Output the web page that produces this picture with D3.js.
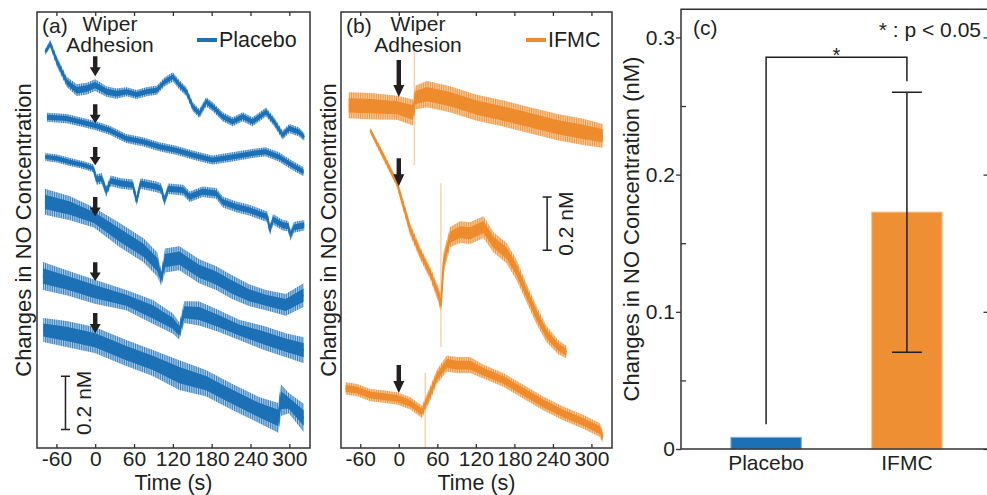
<!DOCTYPE html>
<html>
<head>
<meta charset="utf-8">
<script src="https://cdn.jsdelivr.net/npm/d3@7"></script>
<style>
  body { margin: 0; background: #fff; }
  svg { display: block; font-family: "Liberation Sans", Arial, sans-serif; }
  .tick text { fill: #231f20; }
</style>
</head>
<body>
<svg id="chart" width="987" height="495"></svg>
<script>
// shared time ticks of panels (a) and (b), seconds
const timeTicks = [-60, 0, 60, 120, 180, 240, 300];

// panel (a) placebo recordings: [time s, level nM, noise half-width nM]
const placebo1 = [[-77, 1.490, 0.012], [-69.5, 1.521, 0.015], [-59, 1.452, 0.019], [-44, 1.377, 0.019],
  [-28.5, 1.346, 0.022], [-13, 1.352, 0.022], [0, 1.365, 0.022], [18, 1.340, 0.02], [33, 1.333, 0.019],
  [48.5, 1.340, 0.017], [64, 1.330, 0.017], [79, 1.340, 0.017], [95, 1.346, 0.017], [107, 1.377, 0.017],
  [120, 1.396, 0.017], [130.5, 1.365, 0.017], [141, 1.340, 0.017], [151, 1.283, 0.017], [161, 1.258, 0.017],
  [171.5, 1.302, 0.017], [182, 1.283, 0.017], [197, 1.246, 0.017], [212.5, 1.227, 0.017], [228, 1.246, 0.017],
  [243, 1.227, 0.017], [264, 1.264, 0.017], [276.5, 1.227, 0.017], [289.5, 1.177, 0.017], [300, 1.202, 0.017],
  [315, 1.189, 0.017], [323, 1.170, 0.015]];
const placebo2 = [[-74.6, 1.244, 0.017], [-44.3, 1.239, 0.017], [-23.8, 1.227, 0.017], [-1.8, 1.214, 0.017],
  [22.3, 1.195, 0.017], [48, 1.164, 0.017], [73.5, 1.152, 0.017], [99.2, 1.133, 0.017], [125, 1.120, 0.017],
  [150.5, 1.102, 0.017], [181, 1.083, 0.017], [212, 1.095, 0.017], [243, 1.108, 0.017], [263, 1.114, 0.017],
  [284, 1.095, 0.017], [304, 1.064, 0.017], [322, 1.039, 0.017]];
const placebo3 = [[-77, 1.095, 0.015], [-59, 1.089, 0.015], [-39, 1.076, 0.015], [-18, 1.064, 0.015],
  [-3, 1.052, 0.015], [2, 1.010, 0.02], [10, 1.014, 0.02], [17, 0.965, 0.02], [24, 1.005, 0.02], [40, 0.995, 0.02],
  [58, 0.990, 0.02], [64, 0.930, 0.02], [70, 0.995, 0.02], [95, 0.982, 0.02], [102, 0.975, 0.02], [107, 0.930, 0.02],
  [113, 0.975, 0.02], [136, 0.970, 0.02], [146, 0.945, 0.02], [166, 0.964, 0.02], [187, 0.958, 0.02],
  [197, 0.926, 0.02], [218, 0.907, 0.02], [238, 0.895, 0.02], [259, 0.876, 0.02], [266, 0.870, 0.02],
  [270, 0.820, 0.02], [275, 0.860, 0.02], [290, 0.838, 0.02], [298, 0.835, 0.02], [302, 0.800, 0.02],
  [307, 0.830, 0.02], [323, 0.838, 0.02]];
const placebo4 = [[-77.7, 0.926, 0.049], [-39, 0.902, 0.045], [-2, 0.867, 0.038], [37.7, 0.801, 0.045],
  [74.6, 0.744, 0.045], [96, 0.690, 0.045], [102, 0.640, 0.03], [108, 0.705, 0.045], [130, 0.714, 0.045],
  [160.8, 0.665, 0.045], [187, 0.639, 0.045], [211.5, 0.605, 0.045], [237.7, 0.575, 0.041],
  [263.8, 0.556, 0.038], [294.6, 0.538, 0.041], [322, 0.575, 0.045]];
const placebo5 = [[-80.8, 0.647, 0.053], [-44.3, 0.622, 0.047], [-0.8, 0.588, 0.045], [48, 0.556, 0.038],
  [89, 0.512, 0.045], [119.7, 0.469, 0.038], [130, 0.440, 0.032], [137.7, 0.511, 0.041], [160.8, 0.506, 0.045],
  [191.5, 0.477, 0.041], [222.3, 0.444, 0.038], [263.4, 0.412, 0.045], [294, 0.387, 0.045], [322.3, 0.368, 0.049]];
const placebo6 = [[-80.3, 0.444, 0.045], [-44.3, 0.429, 0.049], [-0.8, 0.406, 0.049], [48, 0.357, 0.049],
  [89, 0.320, 0.049], [130, 0.274, 0.056], [171, 0.244, 0.049], [212, 0.192, 0.049], [253, 0.143, 0.049],
  [283, 0.113, 0.056], [287, 0.180, 0.06], [299.2, 0.169, 0.038], [322.3, 0.113, 0.053]];

// panel (b) IFMC recordings: [time s, level nM, noise half-width nM]
const ifmc1 = [[-78, 1.289, 0.049], [-44, 1.286, 0.049], [-2.6, 1.280, 0.045], [22, 1.262, 0.049],
  [26, 1.318, 0.045], [43.9, 1.331, 0.049], [79.5, 1.312, 0.049], [121.4, 1.280, 0.049], [162.8, 1.258, 0.049],
  [204, 1.233, 0.049], [245.4, 1.208, 0.049], [286.8, 1.189, 0.049], [317.8, 1.174, 0.045]];
const ifmc2 = [[-44.5, 1.195, 0.011], [-23.3, 1.095, 0.015], [-2.6, 0.995, 0.015], [2.5, 0.951, 0.019],
  [18, 0.820, 0.023], [33.5, 0.732, 0.023], [49, 0.657, 0.023], [62, 0.575, 0.03], [65.6, 0.538, 0.03],
  [69.8, 0.699, 0.038], [80, 0.793, 0.038], [95.5, 0.812, 0.041], [111, 0.808, 0.041], [131.8, 0.831, 0.041],
  [147.3, 0.774, 0.038], [167.8, 0.733, 0.038], [183.4, 0.669, 0.038], [198.9, 0.583, 0.034],
  [214.4, 0.500, 0.034], [229.9, 0.429, 0.03], [248, 0.380, 0.026], [261, 0.361, 0.023]];
const ifmc3 = [[-82.8, 0.224, 0.023], [-64.7, 0.218, 0.023], [-44, 0.199, 0.023], [-23.3, 0.193, 0.023],
  [-2.6, 0.187, 0.023], [18, 0.168, 0.023], [36.1, 0.136, 0.023], [49, 0.206, 0.026], [59.4, 0.268, 0.026],
  [74.9, 0.318, 0.03], [90.4, 0.312, 0.03], [111, 0.312, 0.03], [131.8, 0.287, 0.026], [162.8, 0.256, 0.026],
  [193.8, 0.212, 0.026], [224.8, 0.168, 0.026], [255.8, 0.130, 0.026], [286.8, 0.099, 0.026],
  [312.6, 0.068, 0.026], [317.8, 0.042, 0.023]];
// artefact spikes in (b): [time s, low nM, high nM]
const ifmcSpikes = [[24.2, 1.064, 1.496], [65.6, 0.380, 0.996], [41.2, 0.004, 0.282]];

// wiper adhesion arrows at t = 0: [top nM, tip nM]
const placeboArrows = [[1.474, 1.398], [1.293, 1.222], [1.132, 1.064], [0.944, 0.872], [0.699, 0.628], [0.508, 0.432]];
const ifmcArrows = [[1.459, 1.320], [1.090, 0.985], [0.312, 0.207]];
// 0.2 nM scale bars: [time s, from nM, to nM]
const scaleBarA = [-46, 0.07, 0.27];
const scaleBarB = [231, 0.744, 0.944];

// panel (c)
const groups = ['Placebo', 'IFMC'];
const meanChange = [0.0085, 0.1727];
const errLow = [null, 0.0705];
const errHigh = [null, 0.260];
const bracket = [0.018, 0.2856, 0.268]; // left foot, top, right foot
const cTicks = [0, 0.1, 0.2, 0.3];
const cMinor = [0.05, 0.15, 0.25];

const ink = '#231f20';
const blue = '#1c70b5', blueLight = '#b3d1ec';
const orange = '#ee8b2c', orangeLight = '#f9d0a6';

const svg = d3.select('#chart');
const defs = svg.append('defs');

// dense vertical hatching stands in for the fast oscillation of the raw signal
function stripes(id, color) {
  const p = defs.append('pattern').attr('id', id).attr('patternUnits', 'userSpaceOnUse')
    .attr('width', 1.8).attr('height', 8);
  p.append('rect').attr('width', 0.9).attr('height', 8).attr('fill', color).attr('opacity', 0.85);
}
stripes('stripeBlue', blue);
stripes('stripeOrange', orange);

function drawTrace(g, x, y, data, dark, light, pat) {
  const band = k => d3.area().x(d => x(d[0])).y0(d => y(d[1] - d[2] * k)).y1(d => y(d[1] + d[2] * k));
  g.append('path').attr('d', band(1)(data)).attr('fill', light);
  g.append('path').attr('d', band(1)(data)).attr('fill', 'url(#' + pat + ')');
  g.append('path').attr('d', band(0.55)(data)).attr('fill', dark);
  g.append('path').attr('d', d3.line().x(d => x(d[0])).y(d => y(d[1]))(data)).attr('fill', 'none')
    .attr('stroke', dark).attr('stroke-width', 2).attr('stroke-linejoin', 'round');
}

function arrow(g, x, yTop, yTip) {
  const hl = Math.min(12, (yTip - yTop) * 0.45), hw = 5.5, sw = 2.2;
  g.append('path')
    .attr('d', `M${x - sw},${yTop}H${x + sw}V${yTip - hl}H${x + hw}L${x},${yTip}L${x - hw},${yTip - hl}H${x - sw}Z`)
    .attr('fill', ink);
}

function scaleBar(g, x, y, bar, labelDx) {
  const bx = x(bar[0]);
  g.append('path').attr('d', `M${bx - 4.5},${y(bar[1])}H${bx + 4.5}M${bx},${y(bar[1])}V${y(bar[2])}M${bx - 4.5},${y(bar[2])}H${bx + 4.5}`)
    .attr('stroke', ink).attr('stroke-width', 1.5).attr('fill', 'none');
  g.append('text').attr('transform', `translate(${bx + labelDx},${y((bar[1] + bar[2]) / 2)}) rotate(-90)`)
    .attr('text-anchor', 'middle').attr('dominant-baseline', 'central')
    .attr('font-size', 21).attr('fill', ink).text('0.2 nM');
}

function timePanel(opt) {
  const x = d3.scaleLinear().domain([-90, 332]).range([opt.left, opt.right]);
  const y = d3.scaleLinear().domain([0, 1.64]).range([448, 12]);
  const g = svg.append('g');
  const clipId = 'clip' + opt.key;
  defs.append('clipPath').attr('id', clipId).append('rect')
    .attr('x', opt.left).attr('y', 12).attr('width', opt.right - opt.left).attr('height', 436);
  const plot = g.append('g').attr('clip-path', 'url(#' + clipId + ')');

  opt.spikes.forEach(s => {
    plot.append('line').attr('x1', x(s[0])).attr('x2', x(s[0])).attr('y1', y(s[1])).attr('y2', y(s[2]))
      .attr('stroke', opt.light).attr('stroke-width', 1.4);
  });
  opt.traces.forEach(t => drawTrace(plot, x, y, t, opt.dark, opt.light, opt.pattern));
  opt.arrows.forEach(a => arrow(g, x(0), y(a[0]), y(a[1])));
  scaleBar(g, x, y, opt.bar, 18.5);

  // frame and inward ticks
  g.append('rect').attr('x', opt.left).attr('y', 12).attr('width', opt.right - opt.left).attr('height', 436)
    .attr('fill', 'none').attr('stroke', '#333').attr('stroke-width', 1.5);
  const bottom = g.append('g').attr('transform', 'translate(0,448)')
    .call(d3.axisBottom(x).tickValues(timeTicks).tickSizeInner(-4).tickSizeOuter(0).tickPadding(3).tickFormat(d => String(d)));
  bottom.select('.domain').remove();
  bottom.selectAll('.tick line').attr('stroke', '#333').attr('stroke-width', 1.3);
  bottom.selectAll('.tick text').attr('font-size', 21).attr('font-family', null);
  const top = g.append('g').attr('transform', 'translate(0,12)')
    .call(d3.axisTop(x).tickValues(timeTicks).tickSizeInner(-4).tickSizeOuter(0).tickFormat(''));
  top.select('.domain').remove();
  top.selectAll('.tick line').attr('stroke', '#333').attr('stroke-width', 1.3);

  g.append('text').attr('x', (opt.left + opt.right) / 2).attr('y', 490).attr('text-anchor', 'middle')
    .attr('font-size', 21.5).attr('fill', ink).text('Time (s)');
  g.append('text').attr('transform', `translate(${opt.ylabelX},230) rotate(-90)`)
    .attr('text-anchor', 'middle').attr('dominant-baseline', 'central')
    .attr('font-size', 22).attr('fill', ink).text('Changes in NO Concentration');

  g.append('text').attr('x', opt.left + 5).attr('y', 33).attr('font-size', 21).attr('fill', ink).text(opt.tag);
  const wiper = g.append('text').attr('text-anchor', 'middle').attr('font-size', 21).attr('fill', ink);
  wiper.append('tspan').attr('x', opt.wiperX).attr('y', 31).text('Wiper');
  wiper.append('tspan').attr('x', opt.wiperX).attr('y', 52).text('Adhesion');
  g.append('line').attr('x1', opt.legendX).attr('x2', opt.legendX + 20).attr('y1', 40).attr('y2', 40)
    .attr('stroke', opt.dark).attr('stroke-width', 4);
  g.append('text').attr('x', opt.legendX + 22).attr('y', 47).attr('font-size', 21.5).attr('fill', ink).text(opt.name);
}

timePanel({
  key: 'a', tag: '(a)', name: 'Placebo', left: 37, right: 310, ylabelX: 23, wiperX: 110, legendX: 197,
  traces: [placebo1, placebo2, placebo3, placebo4, placebo5, placebo6], spikes: [],
  arrows: placeboArrows, bar: scaleBarA, dark: blue, light: blueLight, pattern: 'stripeBlue'
});
timePanel({
  key: 'b', tag: '(b)', name: 'IFMC', left: 341, right: 612, ylabelX: 328, wiperX: 418, legendX: 526,
  traces: [ifmc1, ifmc2, ifmc3], spikes: ifmcSpikes,
  arrows: ifmcArrows, bar: scaleBarB, dark: orange, light: orangeLight, pattern: 'stripeOrange'
});

// ---- panel (c) bar chart ----
const xC = d3.scaleBand().domain(groups).range([683, 990]).paddingInner(0.5).paddingOuter(0.34);
const yC = d3.scaleLinear().domain([0, 0.3205]).range([449, 9.3]);
const gc = svg.append('g');
const barFill = [blue, '#ef8f33'], barEdge = ['#7fb2de', '#f6c493'];

gc.selectAll('rect.bar').data(groups).enter().append('rect').attr('class', 'bar')
  .attr('x', d => xC(d)).attr('width', xC.bandwidth())
  .attr('y', (d, i) => yC(meanChange[i])).attr('height', (d, i) => yC(0) - yC(meanChange[i]))
  .attr('fill', (d, i) => barFill[i]).attr('stroke', (d, i) => barEdge[i]).attr('stroke-width', 1);

groups.forEach((d, i) => {
  if (errLow[i] == null) return;
  const cx = xC(d) + xC.bandwidth() / 2;
  gc.append('path')
    .attr('d', `M${cx},${yC(errLow[i])}V${yC(errHigh[i])}M${cx - 15},${yC(errLow[i])}H${cx + 15}M${cx - 15},${yC(errHigh[i])}H${cx + 15}`)
    .attr('stroke', ink).attr('stroke-width', 1.5).attr('fill', 'none');
});

const xl = xC(groups[0]) + xC.bandwidth() / 2, xr = xC(groups[1]) + xC.bandwidth() / 2;
gc.append('path').attr('d', `M${xl},${yC(bracket[0])}V${yC(bracket[1])}H${xr}V${yC(bracket[2])}`)
  .attr('stroke', ink).attr('stroke-width', 1.5).attr('fill', 'none');
gc.append('text').attr('x', (xl + xr) / 2).attr('y', yC(bracket[1]) + 5).attr('text-anchor', 'middle')
  .attr('font-size', 20).attr('fill', ink).text('*');

// axes and frame
gc.append('path').attr('d', `M988,9.3H681V449H988`).attr('fill', 'none').attr('stroke', '#333').attr('stroke-width', 1.5);
const left = gc.append('g').attr('transform', 'translate(681,0)')
  .call(d3.axisLeft(yC).tickValues(cTicks).tickSize(5).tickPadding(1).tickFormat(d => d === 0 ? '0' : d.toFixed(1)));
left.select('.domain').remove();
left.selectAll('.tick text').attr('font-size', 21).attr('font-family', null);
const minor = gc.append('g').attr('transform', 'translate(681,0)')
  .call(d3.axisLeft(yC).tickValues(cMinor).tickSize(-5).tickFormat(''));
minor.select('.domain').remove();
const right = gc.append('g').attr('transform', 'translate(987.5,0)')
  .call(d3.axisRight(yC).tickValues(cTicks).tickSize(-4).tickFormat(''));
right.select('.domain').remove();
gc.selectAll('.tick line').attr('stroke', '#333').attr('stroke-width', 1.3);

const bottomC = gc.append('g').attr('transform', 'translate(0,449)')
  .call(d3.axisBottom(xC).tickSize(0).tickPadding(6));
bottomC.select('.domain').remove();
bottomC.selectAll('.tick text').attr('font-size', 21).attr('font-family', null);

gc.append('text').attr('transform', 'translate(631,229) rotate(-90)')
  .attr('text-anchor', 'middle').attr('dominant-baseline', 'central')
  .attr('font-size', 22).attr('fill', ink).text('Changes in NO Concentration (nM)');
gc.append('text').attr('x', 693).attr('y', 35).attr('font-size', 21).attr('fill', ink).text('(c)');
gc.append('text').attr('x', 981).attr('y', 37).attr('text-anchor', 'end').attr('font-size', 21).attr('fill', ink).text('* : p < 0.05');
</script>
</body>
</html>
